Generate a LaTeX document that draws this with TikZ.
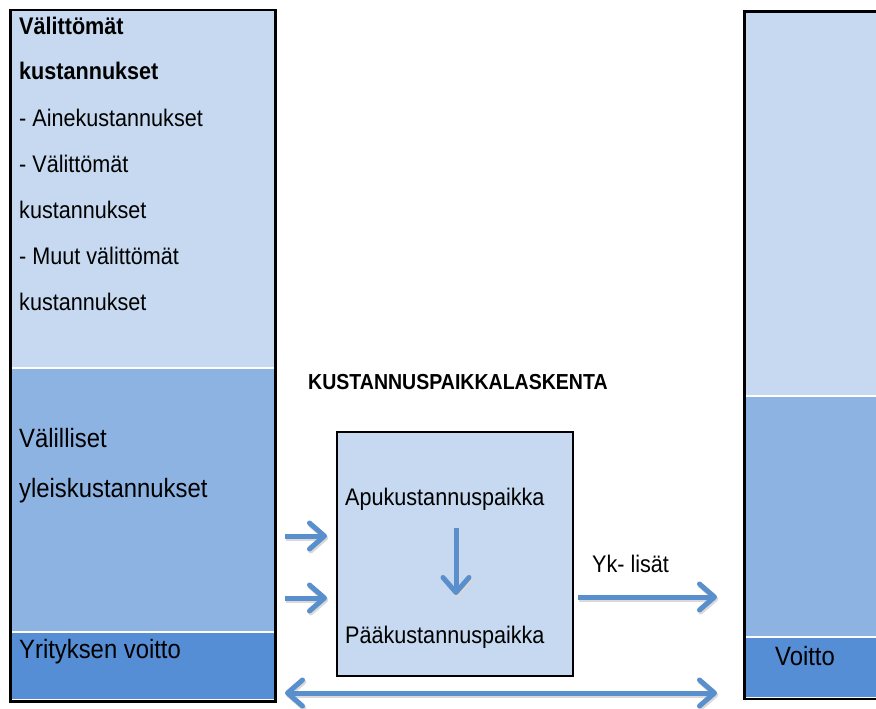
\documentclass[tikz,border=0pt]{standalone}
\usepackage{fontspec}
\setmainfont[FakeStretch=0.9]{Liberation Sans}
\usetikzlibrary{arrows.meta}
\definecolor{lightfill}{RGB}{198,217,240}
\definecolor{midfill}{RGB}{141,179,226}
\definecolor{darkfill}{RGB}{85,142,213}
\definecolor{arrowcol}{RGB}{88,143,204}
\tikzset{
  barb/.tip={Straight Barb[length=15pt, width=26pt, line cap=round, line join=round]},
  txt/.style={anchor=base west, inner sep=0pt, font=\fontsize{24}{24}\selectfont},
  bigtxt/.style={anchor=base west, inner sep=0pt, font=\fontsize{26.5}{26.5}\selectfont},
  boldtxt/.style={anchor=base west, inner sep=0pt, font=\fontsize{24}{24}\selectfont\bfseries},
  sep/.style={white, line width=2pt},
  flow/.style={draw=arrowcol, line width=5pt, -barb,
    preaction={draw=black!15, line width=5pt, transform canvas={shift={(1.2pt,-2pt)}}}},
  bothflow/.style={flow, barb-barb}
}
\begin{document}
\begin{tikzpicture}[x=1pt, y=-1pt]
\useasboundingbox (0,0) rectangle (876,709);
\clip (0,0) rectangle (876,709);
% left column
\fill[lightfill] (9,9) rectangle (274,368);
\fill[midfill] (9,368) rectangle (274,632);
\fill[darkfill] (9,632) rectangle (274,699);
\draw[sep] (9,368) -- (274,368);
\draw[sep] (9,632) -- (274,632);
\node[draw, line width=2.5pt, minimum width=265pt, minimum height=691pt, anchor=north west, inner sep=0pt] (leftcol) at (9,9) {};
% right column
\fill[lightfill] (743,11) rectangle (880,396);
\fill[midfill] (743,396) rectangle (880,637);
\fill[darkfill] (743,637) rectangle (880,697);
\draw[sep] (743,396) -- (880,396);
\draw[sep] (743,637) -- (880,637);
\node[draw, line width=2.5pt, minimum width=150pt, minimum height=687pt, anchor=north west, inner sep=0pt] (rightcol) at (743,10.5) {};
% texts left
\node[boldtxt] (t1) at (19,34.5) {Välittömät};
\node[boldtxt] (t2) at (19,80) {kustannukset};
\node[txt] (t3) at (19,126.5) {- Ainekustannukset};
\node[txt] (t4) at (19,172) {- Välittömät};
\node[txt] (t5) at (19,218) {kustannukset};
\node[txt] (t6) at (19,264) {- Muut välittömät};
\node[txt] (t7) at (19,310) {kustannukset};
\node[bigtxt] (t8) at (19,447) {Välilliset};
\node[bigtxt] (t9) at (19,497) {yleiskustannukset};
\node[bigtxt] (t10) at (19,658) {Yrityksen voitto};
\node[bigtxt] (t11) at (775,665) {Voitto};
% centre
\node[anchor=base west, inner sep=0pt, font=\fontsize{21.7}{21.7}\selectfont\bfseries] (title) at (308,389) {KUSTANNUSPAIKKALASKENTA};
\node[draw, line width=2pt, fill=lightfill, minimum width=236pt, minimum height=244pt, anchor=north west, inner sep=0pt] (box) at (336,431) {};
\node[txt] (apu) at (345,505.5) {Apukustannuspaikka};
\node[txt] (paa) at (345,643) {Pääkustannuspaikka};
\node[txt] (yk) at (592,572) {Yk- lisät};
% arrows
\coordinate (a1s) at (285,536);
\coordinate (a1e) at (327,536);
\coordinate (a2s) at (285,598);
\coordinate (a2e) at (327,598);
\coordinate (dns) at (456,528);
\coordinate (dne) at (456,595);
\coordinate (yks) at (578,597);
\coordinate (yke) at (717,597);
\coordinate (bs) at (285,693);
\coordinate (be) at (717,693);
\draw[flow] (a1s) -- (a1e);
\draw[flow] (a2s) -- (a2e);
\draw[flow] (dns) -- (dne);
\draw[flow] (yks) -- (yke);
\draw[bothflow] (bs) -- (be);
\end{tikzpicture}
\end{document}
